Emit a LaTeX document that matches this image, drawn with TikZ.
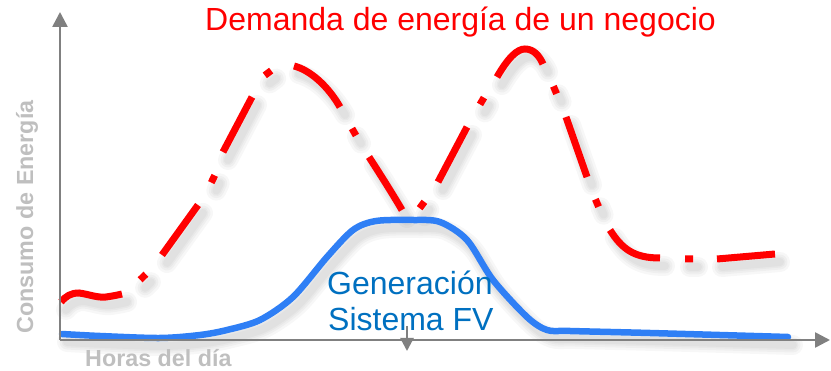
\documentclass[tikz,border=0pt]{standalone}
\usepackage{fontspec}
\setmainfont{Liberation Sans}
\usetikzlibrary{arrows.meta}
\definecolor{axisgray}{RGB}{128,128,128}
\definecolor{labelgray}{RGB}{191,191,191}
\definecolor{demred}{RGB}{255,0,0}
\definecolor{pvblue}{RGB}{47,127,245}
\definecolor{pvtext}{RGB}{0,112,192}
\begin{document}
\begin{tikzpicture}[x=1pt,y=-1pt,
  axisline/.style={draw=axisgray,line width=2.6pt,-{Triangle[length=15pt,width=15pt]}},
  ticktip/.style={draw=axisgray,line width=2.6pt,-{Triangle[length=13pt,width=13pt]}},
  demand/.style={draw=demred,line width=7pt,line cap=butt},
  pvline/.style={draw=pvblue,line width=6.5pt,line cap=round,line join=round},
  shade/.style={draw=black,draw opacity=0.03,line cap=round},
  axislabel/.style={text=labelgray,font=\bfseries\fontsize{23.3}{27}\selectfont,inner sep=0pt},
  pvlabel/.style={text=pvtext,font=\fontsize{32}{36}\selectfont,inner sep=0pt,anchor=base west},
  titlelabel/.style={text=demred,font=\fontsize{32}{36}\selectfont,inner sep=0pt,anchor=base west}]
\useasboundingbox (0,0) rectangle (831,371);
% red dash-dot demand curve: dashes and dots
\def\redparts{
  (61,302) .. controls (66,296) and (71,293) .. (79,293) .. controls (88,294) and (97,298) .. (106,297) .. controls (113,296) and (118,295) .. (122,294)
  (140.1,279.8) -- (145.9,274.2)
  (162,255) -- (198,205)
  (211.3,182.6) -- (214.7,175.4)
  (223,152) -- (252,97)
  (264.8,75.4) -- (271.2,70.6)
  (294,66) .. controls (310,70) and (328,86) .. (340,107)
  (352,128.5) -- (356,135.5)
  (369,157) .. controls (380,174) and (392,193) .. (402,210)
  (419.6,208.2) -- (424.4,201.8)
  (438,182) -- (467,127)
  (480,104.4) -- (484,97.6)
  (497,77) .. controls (508,58) and (517,49) .. (525,49) .. controls (533,49) and (539,55) .. (543,64)
  (553.4,86.3) -- (556.6,93.7)
  (566,117) -- (587,177)
  (595.4,199.3) -- (598.6,206.7)
  (610,230) .. controls (622,249) and (634,258) .. (660,258)
  (685,259) -- (693,259)
  (717,259) -- (775,254)
}
\def\bluepath{plot[smooth,tension=0.5] coordinates {(62,334) (100,336) (160,338) (200,335) (227,330) (260,320) (293,297) (327,257) (353,230) (376,221) (413,220) (440,222) (467,240) (493,280) (527,317) (547,330) (570,331) (650,333) (788,337)}}
% soft shadows
\begin{scope}[shift={(5,8)}]
  \foreach \w in {20,15,11,8}{
    \draw[shade,line width=\w pt] \redparts;
    \draw[shade,line width=\w pt] \bluepath;
  }
\end{scope}
% curves
\draw[pvline] \bluepath;
\draw[demand] \redparts;
% axes
\coordinate (o) at (60,340);
\coordinate (ytop) at (60,12);
\coordinate (xend) at (830,340);
\coordinate (tickA) at (407,326);
\coordinate (tickB) at (407,351);
\draw[axisline] (o) -- (ytop);
\draw[axisline] (o) -- (xend);
% labels
\node[titlelabel] (title) at (205,31) {Demanda de energía de un negocio};
\node[pvlabel] (gen1) at (327,295) {Generación};
\node[pvlabel] (gen2) at (328,331) {Sistema FV};
\draw[ticktip] (tickA) -- (tickB);
\node[axislabel,rotate=90,anchor=base] (ylab) at (33,217) {Consumo de Energía};
\node[axislabel,anchor=base west] (xlab) at (85,366.5) {Horas del día};
\end{tikzpicture}
\end{document}
